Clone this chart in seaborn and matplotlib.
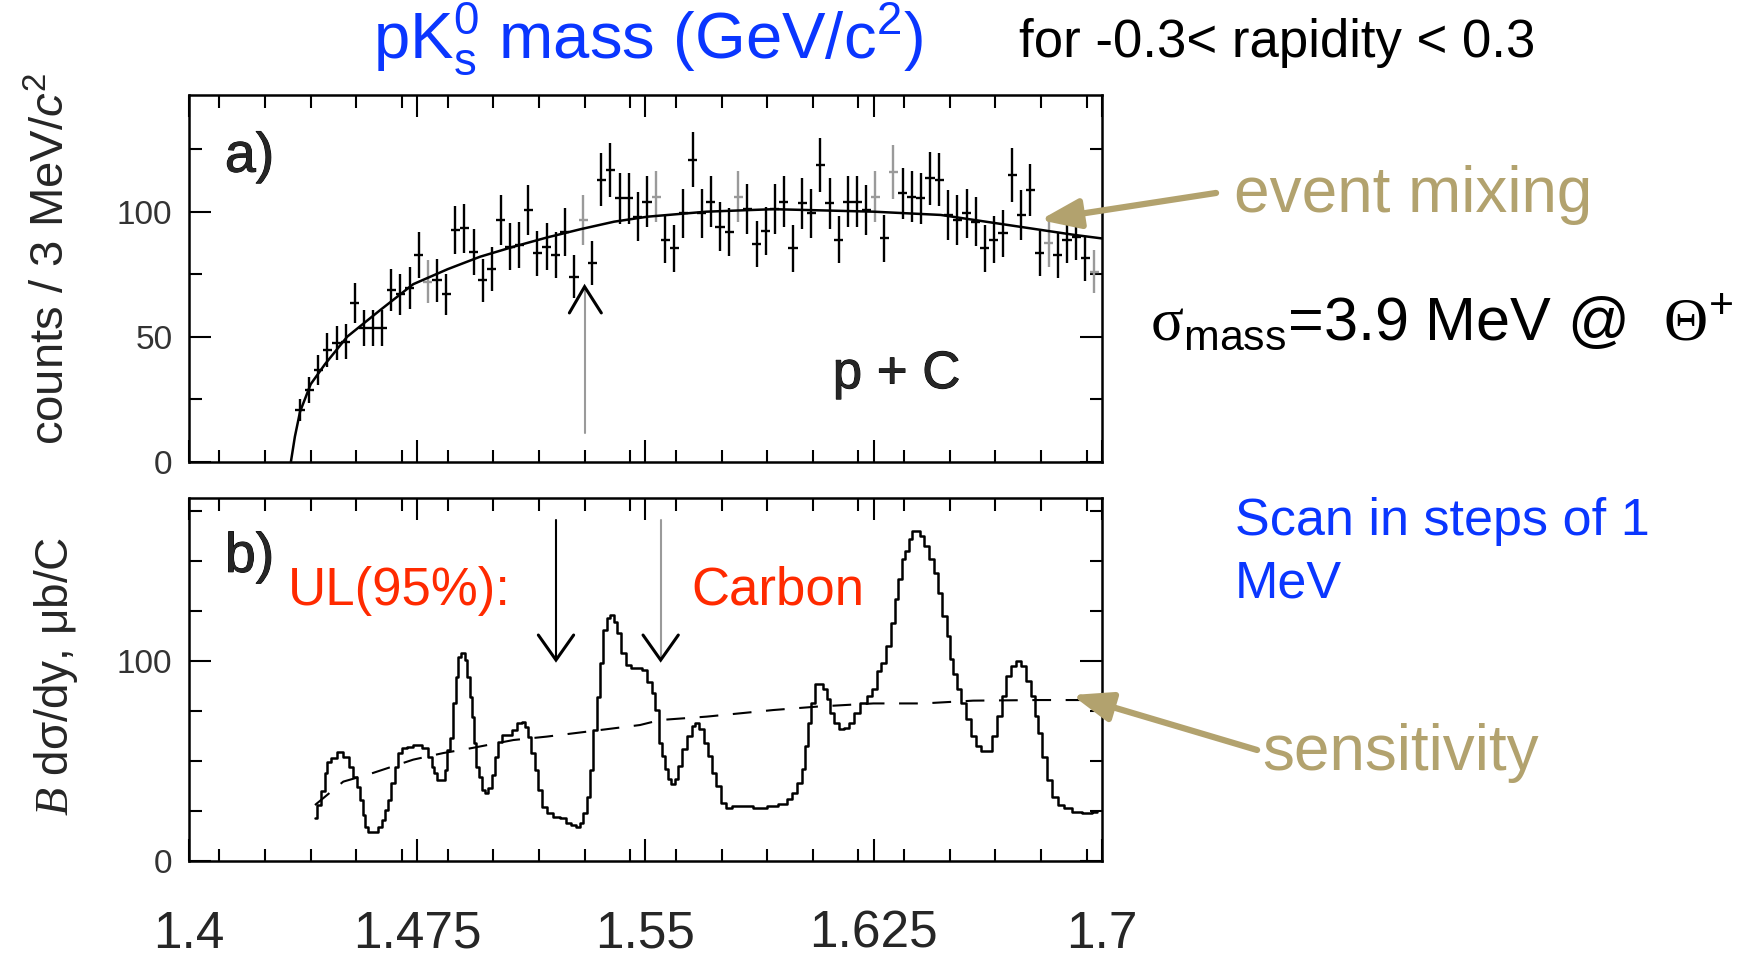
import numpy as np
import matplotlib
matplotlib.use("Agg")
import matplotlib.pyplot as plt
import matplotlib.patheffects as pe
from matplotlib.patches import FancyArrowPatch
from matplotlib.ticker import MultipleLocator, FixedLocator
import seaborn as sns

sns.set_style("ticks")
plt.rcParams["font.family"] = ["Liberation Sans", "DejaVu Sans"]
plt.rcParams["mathtext.fontset"] = "custom"
plt.rcParams["mathtext.rm"] = "Liberation Sans"
plt.rcParams["mathtext.it"] = "Liberation Sans:italic"
plt.rcParams["mathtext.bf"] = "Liberation Serif"
plt.rcParams["mathtext.sf"] = "Liberation Serif:italic"

# ---------------- data ----------------
# a) pK0s invariant mass spectrum, 3 MeV bins starting at 1.435 GeV
bin_lo, bin_width = 1.435, 0.003
counts = [20.7, 28.7, 36.7, 44.7, 47.5, 48, 63.5, 53.5, 53.5, 53.5,
          68.7, 67, 69.5, 82.7, 72, 72.5, 67, 92.7, 93.3, 84, 72.5,
          77, 96.7, 86, 86.7, 100.7, 83.3, 86, 82.7, 92, 74, 96.7,
          79.5, 112.7, 116.7, 105.3, 105.3, 98, 104, 106, 88.7, 85.3, 99.3,
          120.7, 99.3, 104, 94, 92, 106, 101, 87, 92.3, 101, 104,
          85.3, 103.3, 99.3, 118.7, 103.3, 88.7, 104, 104, 100.7, 106, 89.3,
          116, 107.3, 106, 105.3, 113.3, 112.7, 98.7, 96.7, 99.3, 96, 85.3,
          88.7, 91.3, 114.7, 98.7, 108.7, 83.3, 87.3, 82.7, 88.7, 90, 81.3, 76]
faint_bins = [14, 31, 39, 48, 63, 65, 82, 87]

# event-mixing background
mix_mass = [1.4335, 1.4348, 1.4365, 1.4400, 1.4447, 1.4520, 1.4627, 1.4737,
            1.4850, 1.4957, 1.5067, 1.5177, 1.5287, 1.5397, 1.5507, 1.5700,
            1.5920, 1.6250, 1.6470, 1.6580, 1.6690, 1.6800, 1.6910, 1.7000]
mix_counts = [0, 10, 20, 31, 39, 50, 60.5, 71, 77, 82, 86, 89.7, 93, 96, 98,
              100, 101, 100, 98.7, 96.7, 94.7, 92.7, 90.7, 89.3]

# b) upper limit scan (95% CL) for carbon
ul_mass = [1.4414, 1.4425, 1.4441, 1.4452, 1.4458, 1.4474, 1.4496, 1.4518, 1.4535,
           1.4545, 1.4556, 1.4567, 1.4576, 1.4584, 1.4595, 1.4617, 1.4628, 1.4639,
           1.4650, 1.4660, 1.4671, 1.4682, 1.4693, 1.4704, 1.4726, 1.4748, 1.4781,
           1.4792, 1.4803, 1.4808, 1.4819, 1.4836, 1.4847, 1.4852, 1.4863, 1.4872,
           1.4880, 1.4888, 1.4901, 1.4910, 1.4918, 1.4926, 1.4934, 1.4940, 1.4947,
           1.4956, 1.4967, 1.4976, 1.4989, 1.5000, 1.5011, 1.5022, 1.5038, 1.5055,
           1.5071, 1.5088, 1.5099, 1.5110, 1.5120, 1.5131, 1.5142, 1.5153, 1.5170,
           1.5186, 1.5208, 1.5230, 1.5246, 1.5263, 1.5279, 1.5290, 1.5301, 1.5312,
           1.5323, 1.5334, 1.5345, 1.5356, 1.5367, 1.5378, 1.5392, 1.5400, 1.5411,
           1.5427, 1.5444, 1.5460, 1.5482, 1.5498, 1.5515, 1.5526, 1.5537, 1.5550,
           1.5559, 1.5570, 1.5580, 1.5591, 1.5602, 1.5613, 1.5630, 1.5646, 1.5657,
           1.5670, 1.5685, 1.5701, 1.5712, 1.5723, 1.5739, 1.5756, 1.5772, 1.5800,
           1.5832, 1.5876, 1.5920, 1.5953, 1.5975, 1.5991, 1.6008, 1.6019, 1.6030,
           1.6040, 1.6051, 1.6062, 1.6079, 1.6090, 1.6101, 1.6112, 1.6128, 1.6145,
           1.6161, 1.6177, 1.6194, 1.6216, 1.6238, 1.6254, 1.6265, 1.6281, 1.6298,
           1.6314, 1.6325, 1.6336, 1.6347, 1.6358, 1.6371, 1.6380, 1.6396, 1.6407,
           1.6424, 1.6440, 1.6457, 1.6468, 1.6484, 1.6495, 1.6506, 1.6517, 1.6533,
           1.6544, 1.6561, 1.6577, 1.6594, 1.6610, 1.6632, 1.6648, 1.6665, 1.6676,
           1.6692, 1.6709, 1.6725, 1.6741, 1.6758, 1.6774, 1.6785, 1.6796, 1.6813,
           1.6829, 1.6846, 1.6862, 1.6889, 1.6917, 1.6950, 1.6983]
ul_value = [21.3, 28, 34.8, 43.8, 49.7, 51.3, 54.7, 52.2, 47.2,
            42.2, 37.2, 30.5, 23, 17.2, 14.7, 14.7, 17.2, 20.5,
            25.5, 30.5, 38.8, 47.2, 53.8, 56.3, 57.2, 58, 56.3,
            52.2, 47.2, 43.8, 40.5, 40.5, 45.5, 55.5, 61.3, 78.8,
            92.2, 102.2, 103.8, 100.5, 92.2, 82.2, 72.2, 58.8, 47.2,
            42.2, 35.5, 33.8, 36.3, 43, 52.2, 59.7, 63, 63,
            65.5, 68.8, 69.7, 67.2, 62.2, 53.8, 45.5, 35.5, 27.2,
            23.8, 22.2, 21.3, 18.8, 18, 17.2, 18.8, 23.8, 32.2,
            45.5, 65.5, 82.2, 98.8, 115.5, 121.3, 123, 119.7, 113.8,
            103.8, 98, 96.3, 96.3, 95.5, 89.7, 83.8, 75.5, 59.2,
            52.5, 45.8, 40.8, 38.3, 40.8, 47.5, 55.8, 62.5, 67.5,
            69.2, 65.8, 59.2, 52.5, 44.2, 37.5, 29.2, 26.7, 27.5,
            27.5, 26.7, 27.5, 28.3, 30.8, 34.2, 39.2, 45.8, 57.5,
            69.2, 79.2, 88.3, 88.3, 85.8, 80.8, 74.2, 69.2, 65.8,
            66.7, 69.2, 74.2, 79.2, 82.5, 85.8, 95, 99.2, 107.5,
            119.2, 130.8, 140.8, 150.8, 155, 160.8, 165, 165, 162.5,
            157.5, 150.8, 144.2, 134.2, 122.5, 112.5, 100.8, 93.3, 85.8,
            79.2, 70.8, 62.5, 57.5, 55, 55, 62.5, 72.5, 82.5,
            92.5, 97.5, 100, 97.5, 90, 82.5, 72.5, 64.2, 52.2,
            40.5, 32.2, 28, 26.3, 24.7, 23.8, 24.7]

# sensitivity of the scan
sens_mass = [1.4414, 1.4507, 1.4600, 1.4737, 1.4836, 1.4923, 1.5066, 1.5175, 1.5351,
             1.5482, 1.5548, 1.5701, 1.5920, 1.6063, 1.6249, 1.6413, 1.6577, 1.6796,
             1.6983]
sens_value = [28, 39.7, 43.8, 50.7, 54, 56.3, 60.5, 62.2, 65.5,
              68, 70.5, 72.2, 75.5, 77.2, 78.8, 78.8, 80.2, 80.5,
              80.5]

theta_mass = 1.530            # expected Theta+ position (panel a arrow)
ul_marks = [1.5206, 1.5550]   # masses flagged in panel b

xticks_major = [1.4, 1.475, 1.55, 1.625, 1.7]
xtick_labels = ["1.4", "1.475", "1.55", "1.625", "1.7"]

BLUE = "#0a36ff"
RED = "#ff2a00"
TAN = "#b2a26e"
GREY = "#9a9a9a"

# ---------------- figure ----------------
fig = plt.figure(figsize=(17.53, 9.60), dpi=100)
ax_a = fig.add_axes([0.1078, 0.5191, 0.5208, 0.3820])
ax_b = fig.add_axes([0.1078, 0.1031, 0.5208, 0.3781])

centres = bin_lo + bin_width * (np.arange(len(counts)) + 0.5)
counts_arr = np.asarray(counts)
errs = np.sqrt(counts_arr)
faint = np.zeros(len(counts), dtype=bool)
faint[faint_bins] = True

ax_a.errorbar(centres[~faint], counts_arr[~faint], yerr=errs[~faint],
              xerr=bin_width / 2, fmt="none", ecolor="black", elinewidth=1.7, capsize=0)
ax_a.errorbar(centres[faint], counts_arr[faint], yerr=errs[faint],
              xerr=bin_width / 2, fmt="none", ecolor=GREY, elinewidth=1.7, capsize=0)
sns.lineplot(x=mix_mass, y=mix_counts, ax=ax_a, color="black", linewidth=1.8,
             sort=False)

sns.lineplot(x=ul_mass, y=ul_value, ax=ax_b, color="black", linewidth=1.8,
             drawstyle="steps-mid", sort=False)
sns.lineplot(x=sens_mass, y=sens_value, ax=ax_b, color="black", linewidth=1.5,
             sort=False, dashes=False)
ax_b.lines[-1].set_dashes((9, 7))

# arrows: grey shaft with black open head
ax_a.plot([theta_mass, theta_mass], [11.5, 70], color=GREY, lw=1.5)
ax_a.plot([theta_mass - 0.0050, theta_mass, theta_mass + 0.0055], [59.5, 70, 59.5],
          color="black", lw=2.2, solid_joinstyle="miter")
for m, shaft_col in zip(ul_marks, ["black", GREY]):
    ax_b.plot([m, m], [170.5, 100.5], color=shaft_col, lw=1.5)
    ax_b.plot([m - 0.0058, m, m + 0.0058], [113, 100.5, 113], color="black", lw=2.2,
              solid_joinstyle="miter")

for ax in (ax_a, ax_b):
    ax.set_xlim(1.4, 1.7)
    ax.xaxis.set_major_locator(FixedLocator(xticks_major))
    ax.xaxis.set_minor_locator(MultipleLocator(0.015))
    ax.tick_params(which="both", direction="in", top=True, right=True,
                   color="black", width=1.5)
    ax.tick_params(which="major", length=16)
    ax.tick_params(which="minor", length=9)
    ax.tick_params(axis="y", labelsize=24, pad=12, labelcolor="#333333")
    for s in ax.spines.values():
        s.set_linewidth(1.8)
        s.set_color("black")
    ax.set_xlabel("")
    ax.set_ylabel("")

ax_a.set_ylim(0, 146.7)
ax_a.yaxis.set_major_locator(MultipleLocator(50))
ax_a.yaxis.set_minor_locator(MultipleLocator(25))
ax_a.tick_params(axis="x", labelbottom=False)

ax_b.set_ylim(0, 181.5)
ax_b.yaxis.set_major_locator(MultipleLocator(100))
ax_b.yaxis.set_minor_locator(MultipleLocator(25))
ax_b.set_xticklabels(xtick_labels)
ax_b.tick_params(axis="x", labelsize=37, pad=35)

# panel texts, a touch heavier than regular weight
heavy = [pe.withStroke(linewidth=0.7, foreground="black")]
ax_a.text(1.4118, 116, "a)", fontsize=40, va="baseline", ha="left", path_effects=heavy)
ax_a.text(1.6325, 29.4, "p + C", fontsize=38, va="baseline", ha="center",
          path_effects=heavy)
ax_b.text(1.4118, 144.6, "b)", fontsize=40, va="baseline", ha="left", path_effects=heavy)

# axis titles
fig.text(0.0297, 0.7300, r"counts / 3 MeV/$c^{2}$", rotation=90, fontsize=34,
         ha="center", va="center")
fig.text(0.0320, 0.2958, r"$\mathsf{B}$ dσ/dy, μb/C", rotation=90, fontsize=33,
         ha="center", va="center")

# headline texts
fig.text(0.2128, 0.9396, r"pK$^{0}_{\mathrm{s}}$ mass (GeV/c$^{2}$)", color=BLUE,
         fontsize=47, ha="left", va="baseline")
fig.text(0.5813, 0.9406, "for -0.3< rapidity < 0.3", color="black", fontsize=38,
         ha="left", va="baseline")
fig.text(0.6560, 0.6458, r"$\mathbf{\sigma}_{\mathrm{mass}}$=3.9 MeV @  $\mathbf{\Theta}^{+}$",
         color="black", fontsize=44, ha="left", va="baseline")
fig.text(0.7045, 0.4427, "Scan in steps of 1", color=BLUE, fontsize=37.5,
         ha="left", va="baseline")
fig.text(0.7045, 0.3771, "MeV", color=BLUE, fontsize=37.5, ha="left", va="baseline")
fig.text(0.1643, 0.3698, "UL(95%):", color=RED, fontsize=38, ha="left", va="baseline")
fig.text(0.3946, 0.3698, "Carbon", color=RED, fontsize=38, ha="left", va="baseline")

fig.text(0.7040, 0.7795, "event mixing", color=TAN, fontsize=46, ha="left", va="baseline")
fig.text(0.7199, 0.1979, "sensitivity", color=TAN, fontsize=46, ha="left", va="baseline")

arrow_kw = dict(arrowstyle="-|>,head_length=24,head_width=9", color=TAN, lw=4.5,
                shrinkA=0, shrinkB=0, mutation_scale=1)
fig.add_artist(FancyArrowPatch((0.6937, 0.7990), (0.5933, 0.7708),
                               transform=fig.transFigure, **arrow_kw))
fig.add_artist(FancyArrowPatch((0.7171, 0.21875), (0.6115, 0.2760),
                               transform=fig.transFigure, **arrow_kw))

fig.savefig("out.png", dpi=100, facecolor="white")
